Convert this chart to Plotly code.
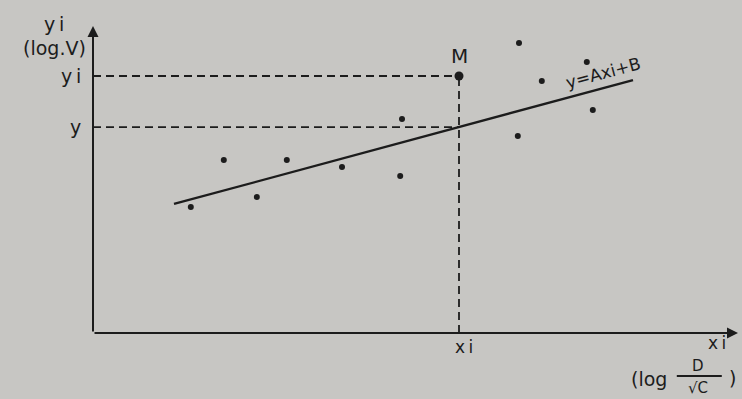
import plotly.graph_objects as go

# Measured points: xi = log(D/sqrt(C)), yi = log V
x_obs = [1.63, 2.18, 2.73, 3.23, 4.15, 5.12, 5.15, 7.10, 7.08, 7.48, 8.23, 8.33]
y_obs = [2.52, 3.46, 2.72, 3.46, 3.32, 3.14, 4.28, 5.80, 3.94, 5.04, 5.42, 4.46]

# Highlighted point M
m_x = 6.10
m_y = 5.14

# Fitted line y = A*xi + B
A = 0.324
B = 2.143
fit_x = [1.35, 9.0]
fit_y = [A * v + B for v in fit_x]
y_fit_at_m = A * m_x + B

X_MAX = 10.75
Y_MAX = 6.14

INK = "#1c1c1c"
BG = "#c7c6c3"
FONT = "DejaVu Sans"

fig = go.Figure()

# guide lines from M and from the fitted value to the axes
dash = dict(color=INK, width=1.8, dash="8px,5px")
fig.add_trace(go.Scatter(x=[0, m_x], y=[m_y, m_y], mode="lines", line=dash, hoverinfo="skip"))
fig.add_trace(go.Scatter(x=[0, m_x], y=[y_fit_at_m, y_fit_at_m], mode="lines", line=dash, hoverinfo="skip"))
fig.add_trace(go.Scatter(x=[m_x, m_x], y=[0, m_y], mode="lines", line=dash, hoverinfo="skip"))

# regression line
fig.add_trace(go.Scatter(x=fit_x, y=fit_y, mode="lines", line=dict(color=INK, width=2.3), hoverinfo="skip"))

# scatter points
fig.add_trace(go.Scatter(x=x_obs, y=y_obs, mode="markers",
                         marker=dict(color=INK, size=6), hoverinfo="skip"))
fig.add_trace(go.Scatter(x=[m_x], y=[m_y], mode="markers",
                         marker=dict(color=INK, size=9), hoverinfo="skip"))

# axes drawn with arrowheads
fig.add_annotation(x=0, y=Y_MAX, ax=0, ay=0, xref="x", yref="y", axref="x", ayref="y",
                   showarrow=True, arrowhead=2, arrowsize=1.1, arrowwidth=2, arrowcolor=INK, text="")
fig.add_annotation(x=X_MAX, y=0, ax=0, ay=0, xref="x", yref="y", axref="x", ayref="y",
                   showarrow=True, arrowhead=2, arrowsize=1.1, arrowwidth=2, arrowcolor=INK, text="")


def label(text, x, y, size=18, xanchor="center", **kw):
    # place text in axis units, converted to paper units so it may sit outside the plot area
    fig.add_annotation(x=x / X_MAX, y=y / Y_MAX, xref="paper", yref="paper", text=text,
                       xanchor=xanchor, yanchor="middle", showarrow=False,
                       font=dict(family=FONT, size=size, color=INK), **kw)


# y-axis title and tick labels
label("y\u2009i", -0.65, 6.18, size=19)
label("(log.V)", -0.65, 5.70, size=19)
label("y\u2009i", -0.17, m_y, size=19, xanchor="right")
label("y", -0.17, y_fit_at_m, size=19, xanchor="right")

# point and line labels
label("M", m_x, m_y + 0.40, size=20)
label("y=Axi+B", 8.5, 5.2, size=17, textangle=-15)

# x-axis tick label and title
label("x\u2009i", m_x + 0.08, -0.28, size=17)
label("x\u2009i", 10.4, -0.2, size=17)
label("(log", 9.27, -0.92, size=19)
label("D", 10.08, -0.66, size=15)
label("√C", 10.08, -1.1, size=15)
label(")", 10.65, -0.9, size=19)
fig.add_shape(type="line", xref="paper", yref="paper",
              x0=9.73 / X_MAX, x1=10.48 / X_MAX, y0=-0.86 / Y_MAX, y1=-0.86 / Y_MAX,
              line=dict(color=INK, width=1.8))

fig.update_xaxes(range=[0, X_MAX], visible=False, fixedrange=True)
fig.update_yaxes(range=[0, Y_MAX], visible=False, fixedrange=True)
fig.update_layout(
    width=742, height=399,
    margin=dict(l=93, r=4, t=26, b=66),
    paper_bgcolor=BG, plot_bgcolor=BG,
    showlegend=False,
)

fig.write_html("out.html")
